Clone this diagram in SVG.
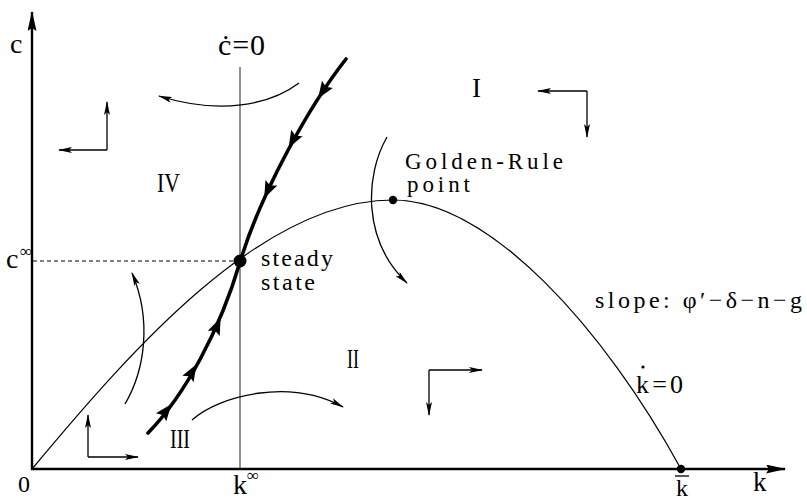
<svg xmlns="http://www.w3.org/2000/svg" xmlns:xlink="http://www.w3.org/1999/xlink" width="807" height="501" viewBox="0 0 807 501">
<style>
  .t { font-family: "Liberation Serif", "Times New Roman", serif; fill: #000; }
  .lbl { font-size: 24px; }
  .math { font-size: 28px; }
  .thin { fill: none; stroke: #000; stroke-width: 1.2; }
  .flow { fill: none; stroke: #000; stroke-width: 1.3; marker-end: url(#ah); }
  .axis { fill: none; stroke: #000; stroke-width: 2.4; }
</style>
<defs>
  <marker id="ah" viewBox="0 0 14 6" refX="13" refY="3" markerWidth="14" markerHeight="6" markerUnits="userSpaceOnUse" orient="auto">
    <path d="M0,0 L14,3 L0,6 L3,3 Z" fill="#000"/>
  </marker>
  <marker id="axh" viewBox="0 0 20 9" refX="19" refY="4.5" markerWidth="20" markerHeight="9" markerUnits="userSpaceOnUse" orient="auto">
    <path d="M0,0 L20,4.5 L0,9 L3,4.5 Z" fill="#000"/>
  </marker>
  <path id="tri" d="M9,0 L-8,-6.5 L-5,0 L-8,6.5 Z" fill="#000"/>
</defs>

<g id="axes">
  <line class="axis" x1="32" y1="470" x2="32" y2="12" marker-end="url(#axh)"/>
  <line class="axis" x1="31" y1="469" x2="785" y2="469" marker-end="url(#axh)"/>
  <text class="t math" x="10" y="53">c</text>
  <text class="t math" x="6" y="268">c</text>
  <text class="t" x="20" y="257" font-size="17">∞</text>
  <text class="t lbl" x="18" y="492">0</text>
  <text class="t math" x="233" y="494">k</text>
  <text class="t" x="247" y="481" font-size="17">∞</text>
  <text class="t lbl" x="676" y="496">k</text>
  <line x1="675" y1="476" x2="689" y2="476" stroke="#000" stroke-width="1.3"/>
  <text class="t" x="753" y="491" font-size="27">k</text>
</g>

<g id="connectors">
  <!-- c-dot = 0 locus -->
  <line x1="240" y1="67" x2="240" y2="469" stroke="#222" stroke-width="1"/>
  <!-- dashed guide -->
  <line x1="33" y1="261" x2="234" y2="261" stroke="#000" stroke-width="1.2" stroke-dasharray="4,3"/>
  <!-- k-dot = 0 locus -->
  <path class="thin" d="M32,469 C132,349 262,200 393,200 C490,200 605,330 681,469"/>
  <!-- saddle path -->
  <path fill="none" stroke="#000" stroke-width="3.6" stroke-linecap="round" d="M148,433 C185,395 220,330 240,262 C262,190 310,105 346,59"/>
  <use xlink:href="#tri" transform="translate(166,411) rotate(-52.3)"/>
  <use xlink:href="#tri" transform="translate(192,372) rotate(-59.8)"/>
  <use xlink:href="#tri" transform="translate(217,326) rotate(-66.1)"/>
  <use xlink:href="#tri" transform="translate(268,190) rotate(114.9)"/>
  <use xlink:href="#tri" transform="translate(293,140) rotate(119)"/>
  <use xlink:href="#tri" transform="translate(323,91) rotate(123.4)"/>
  <!-- curved flow arrows -->
  <path class="flow" d="M299,83 C270,105 220,115 159,96"/>
  <path class="flow" d="M125,404 C145,370 152,320 132,273"/>
  <path class="flow" d="M192,420 C220,395 290,378 343,407"/>
  <path class="flow" d="M387,137 C365,175 362,240 407,283"/>
  <!-- direction crosses -->
  <g id="dir-IV">
    <path class="flow" d="M107,150 L107,102"/>
    <path class="flow" d="M107,150 L59,150"/>
  </g>
  <g id="dir-I">
    <path class="flow" d="M587,91 L538,91"/>
    <path class="flow" d="M587,91 L587,137"/>
  </g>
  <g id="dir-II">
    <path class="flow" d="M429,370 L482,370"/>
    <path class="flow" d="M429,370 L429,415"/>
  </g>
  <g id="dir-III">
    <path class="flow" d="M88,457 L88,415"/>
    <path class="flow" d="M88,457 L138,457"/>
  </g>
</g>

<g id="steady-state">
  <circle cx="240" cy="261" r="6.5" fill="#000"/>
  <text class="t lbl" x="261" y="266" textLength="72">steady</text>
  <text class="t lbl" x="261" y="290" textLength="54">state</text>
</g>

<g id="golden-rule">
  <circle cx="393" cy="200" r="4.2" fill="#000"/>
  <text class="t" x="405" y="169" font-size="23" textLength="158">Golden-Rule</text>
  <text class="t" x="407" y="192" font-size="23" textLength="63">point</text>
</g>

<g id="kbar-point">
  <circle cx="681" cy="469" r="4.2" fill="#000"/>
</g>

<g id="labels">
  <text class="t" x="218" y="55" font-size="30" textLength="47">ċ=0</text>
  <text class="t" x="636" y="393" font-size="26" textLength="47">k=0</text>
  <circle cx="643" cy="367" r="1.6" fill="#000"/>
  <text class="t" x="595" y="308" font-size="24" textLength="207">slope: φ′−δ−n−g</text>
  <text class="t" x="157" y="192" font-size="27" textLength="23" lengthAdjust="spacingAndGlyphs">IV</text>
  <text class="t" x="472" y="97" font-size="27">I</text>
  <text class="t" x="347" y="368" font-size="27" textLength="12" lengthAdjust="spacingAndGlyphs">II</text>
  <text class="t" x="170" y="448" font-size="27" textLength="20" lengthAdjust="spacingAndGlyphs">III</text>
</g>
</svg>
